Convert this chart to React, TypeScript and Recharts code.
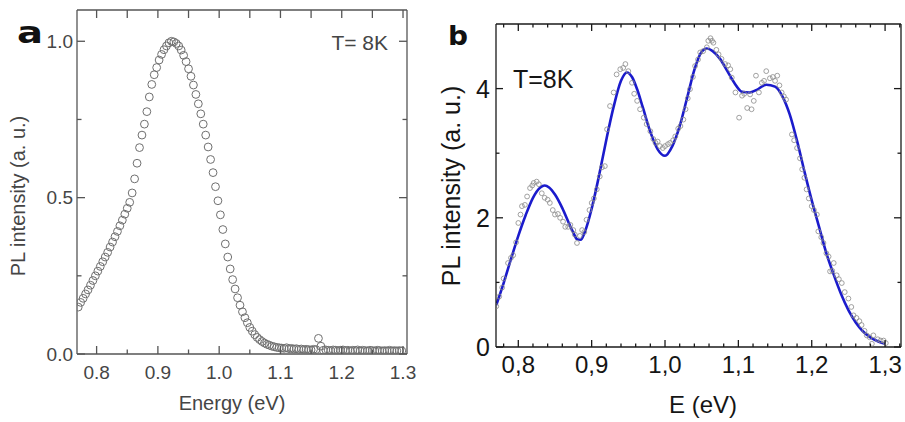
import React from 'react';
import { ComposedChart, Scatter, Line, XAxis, YAxis } from 'recharts';

// panel a: PL spectrum, open circles
const energyA = [
  0.770, 0.774, 0.778, 0.782, 0.786, 0.790, 0.794, 0.798, 0.802, 0.806, 0.810, 0.814, 0.818, 0.822, 0.826, 0.830,
  0.834, 0.838, 0.842, 0.846, 0.850, 0.854, 0.858, 0.862, 0.866, 0.870, 0.874, 0.878, 0.882, 0.886, 0.890, 0.894,
  0.898, 0.902, 0.906, 0.910, 0.914, 0.918, 0.922, 0.926, 0.930, 0.934, 0.938, 0.942, 0.946, 0.950, 0.954, 0.958,
  0.962, 0.966, 0.970, 0.974, 0.978, 0.982, 0.986, 0.990, 0.994, 0.998, 1.002, 1.006, 1.010, 1.014, 1.018, 1.022,
  1.026, 1.030, 1.034, 1.038, 1.042, 1.046, 1.050, 1.054, 1.058, 1.062, 1.066, 1.070, 1.074, 1.078, 1.082, 1.086,
  1.090, 1.094, 1.098, 1.102, 1.106, 1.110, 1.114, 1.118, 1.122, 1.126, 1.130, 1.134, 1.138, 1.142, 1.146, 1.150,
  1.154, 1.158, 1.162, 1.166, 1.170, 1.174, 1.178, 1.182, 1.186, 1.190, 1.194, 1.198, 1.202, 1.206, 1.210, 1.214,
  1.218, 1.222, 1.226, 1.230, 1.234, 1.238, 1.242, 1.246, 1.250, 1.254, 1.258, 1.262, 1.266, 1.270, 1.274, 1.278,
  1.282, 1.286, 1.290, 1.294, 1.298,
];
const intensityA = [
  0.150, 0.165, 0.178, 0.192, 0.205, 0.220, 0.235, 0.250, 0.265, 0.280, 0.295, 0.310, 0.325, 0.342, 0.358, 0.375,
  0.392, 0.410, 0.428, 0.447, 0.466, 0.485, 0.515, 0.560, 0.610, 0.660, 0.700, 0.735, 0.775, 0.822, 0.862, 0.893,
  0.916, 0.940, 0.958, 0.973, 0.985, 0.995, 1.000, 0.998, 0.993, 0.985, 0.972, 0.955, 0.935, 0.912, 0.888, 0.860,
  0.830, 0.800, 0.768, 0.735, 0.700, 0.662, 0.622, 0.580, 0.535, 0.490, 0.445, 0.398, 0.352, 0.310, 0.272, 0.238,
  0.208, 0.180, 0.156, 0.135, 0.116, 0.100, 0.085, 0.073, 0.062, 0.053, 0.046, 0.040, 0.035, 0.031, 0.028, 0.025,
  0.023, 0.021, 0.020, 0.019, 0.018, 0.020, 0.017, 0.018, 0.016, 0.017, 0.015, 0.016, 0.014, 0.015, 0.014, 0.013,
  0.015, 0.014, 0.050, 0.025, 0.012, 0.013, 0.012, 0.011, 0.013, 0.012, 0.011, 0.012, 0.013, 0.011, 0.012, 0.010,
  0.012, 0.011, 0.013, 0.010, 0.012, 0.011, 0.010, 0.012, 0.011, 0.010, 0.012, 0.011, 0.010, 0.011, 0.010, 0.012,
  0.010, 0.011, 0.010, 0.011, 0.010,
];

// panel b: measured points + fit
const energyB = [
  0.770, 0.774, 0.778, 0.780, 0.786, 0.790, 0.793, 0.797, 0.800, 0.803, 0.805, 0.809, 0.812, 0.816, 0.819, 0.821,
  0.825, 0.828, 0.832, 0.836, 0.840, 0.843, 0.847, 0.850, 0.854, 0.857, 0.861, 0.864, 0.868, 0.871, 0.875, 0.877,
  0.880, 0.884, 0.887, 0.890, 0.893, 0.897, 0.900, 0.903, 0.907, 0.911, 0.914, 0.918, 0.921, 0.925, 0.930, 0.934,
  0.939, 0.943, 0.946, 0.950, 0.955, 0.958, 0.962, 0.966, 0.971, 0.975, 0.980, 0.984, 0.987, 0.990, 0.993, 0.997,
  1.000, 1.004, 1.007, 1.011, 1.014, 1.018, 1.021, 1.025, 1.028, 1.031, 1.034, 1.038, 1.041, 1.045, 1.048, 1.052,
  1.057, 1.059, 1.062, 1.064, 1.066, 1.070, 1.073, 1.077, 1.082, 1.086, 1.089, 1.091, 1.096, 1.101, 1.105, 1.108,
  1.112, 1.116, 1.118, 1.121, 1.124, 1.128, 1.132, 1.135, 1.138, 1.143, 1.147, 1.150, 1.153, 1.156, 1.159, 1.162,
  1.165, 1.173, 1.176, 1.180, 1.184, 1.187, 1.190, 1.193, 1.196, 1.200, 1.203, 1.207, 1.209, 1.213, 1.216, 1.220,
  1.223, 1.225, 1.228, 1.230, 1.234, 1.237, 1.241, 1.245, 1.250, 1.254, 1.257, 1.261, 1.265, 1.268, 1.272, 1.275,
  1.279, 1.282, 1.284, 1.290, 1.294, 1.298, 1.301,
];
const intensityB = [
  0.63, 0.78, 0.92, 1.06, 1.30, 1.38, 1.42, 1.62, 1.92, 2.05, 2.18, 2.20, 2.33, 2.46, 2.50, 2.54,
  2.56, 2.52, 2.38, 2.31, 2.28, 2.23, 2.12, 2.05, 2.06, 2.00, 1.94, 1.86, 1.86, 1.89, 1.81, 1.74,
  1.61, 1.72, 1.81, 1.78, 1.97, 2.12, 2.23, 2.30, 2.44, 2.64, 2.78, 2.80, 3.37, 3.73, 3.94, 4.22,
  4.30, 4.32, 4.38, 4.27, 4.09, 3.92, 3.81, 3.68, 3.55, 3.45, 3.34, 3.22, 3.16, 3.18, 3.11, 3.08,
  3.11, 3.14, 3.16, 3.20, 3.26, 3.38, 3.42, 3.52, 3.68, 3.85, 3.99, 4.18, 4.35, 4.45, 4.56, 4.58,
  4.64, 4.74, 4.78, 4.74, 4.71, 4.60, 4.53, 4.46, 4.38, 4.36, 4.30, 4.17, 3.94, 3.55, 3.89, 3.92,
  3.70, 3.91, 3.68, 3.81, 4.20, 3.94, 4.09, 4.12, 4.27, 4.16, 4.18, 4.12, 4.20, 4.05, 3.94, 3.88,
  3.83, 3.29, 3.20, 3.08, 2.92, 2.75, 2.62, 2.44, 2.30, 2.18, 2.12, 2.05, 1.79, 1.70, 1.61, 1.45,
  1.40, 1.17, 1.18, 1.30, 1.11, 1.05, 0.99, 0.85, 0.75, 0.62, 0.49, 0.45, 0.40, 0.34, 0.25, 0.18,
  0.15, 0.05, 0.18, 0.12, 0.10, 0.10, 0.06,
];
const fitEnergyB = [
  0.770, 0.780, 0.790, 0.800, 0.810, 0.820, 0.830, 0.836, 0.842, 0.850, 0.860, 0.870, 0.875, 0.880, 0.885, 0.890,
  0.895, 0.900, 0.910, 0.920, 0.930, 0.940, 0.948, 0.955, 0.962, 0.970, 0.980, 0.990, 1.000, 1.010, 1.020, 1.030,
  1.040, 1.050, 1.057, 1.065, 1.075, 1.085, 1.095, 1.105, 1.115, 1.125, 1.138, 1.150, 1.160, 1.170, 1.180, 1.190,
  1.200, 1.210, 1.220, 1.230, 1.240, 1.250, 1.260, 1.270, 1.280, 1.290, 1.300,
];
const fitIntensityB = [
  0.65, 0.99, 1.36, 1.72, 2.04, 2.31, 2.47, 2.50, 2.47, 2.36, 2.15, 1.89, 1.77, 1.67, 1.66, 1.76,
  1.93, 2.14, 2.65, 3.21, 3.72, 4.12, 4.25, 4.18, 3.99, 3.70, 3.33, 3.06, 2.96, 3.11, 3.42, 3.85,
  4.29, 4.57, 4.62, 4.58, 4.46, 4.27, 4.08, 3.95, 3.94, 3.98, 4.06, 4.03, 3.88, 3.60, 3.19, 2.72,
  2.27, 1.86, 1.45, 1.12, 0.82, 0.57, 0.38, 0.24, 0.15, 0.09, 0.05,
];

// ticks
const xTicksA = [0.8, 0.85, 0.9, 0.95, 1.0, 1.05, 1.1, 1.15, 1.2, 1.25, 1.3];
const xMajorA = [0.8, 0.9, 1.0, 1.1, 1.2, 1.3];
const yTicksA = [0, 0.25, 0.5, 0.75, 1.0];
const yMajorA = [0, 0.5, 1.0];
const xTicksB = [
  0.78, 0.8, 0.82, 0.84, 0.86, 0.88, 0.9, 0.92, 0.94, 0.96, 0.98, 1.0, 1.02, 1.04, 1.06, 1.08,
  1.1, 1.12, 1.14, 1.16, 1.18, 1.2, 1.22, 1.24, 1.26, 1.28, 1.3, 1.32,
];
const xMajorB = [0.8, 0.9, 1.0, 1.1, 1.2, 1.3];
const yTicksB = [0, 1, 2, 3, 4];
const yMajorB = [0, 2, 4];

const dataA = energyA.map((e, i) => ({ e, v: intensityA[i] }));
const dataB = energyB.map((e, i) => ({ e, v: intensityB[i] }));
const fitB = fitEnergyB.map((e, i) => ({ e, v: fitIntensityB[i] }));

const FONT = '"Liberation Sans", Arial, Helvetica, sans-serif';
const near = (list: number[], v: number) => list.some((m) => Math.abs(m - v) < 1e-6);

type Side = 'top' | 'bottom' | 'left' | 'right';

// inward tick mark (longer on majors) plus an optional label
function makeTick(
  side: Side,
  majors: number[],
  majorLen: number,
  minorLen: number,
  stroke: string,
  label?: { fmt: (v: number) => string; size: number; fill: string; offset: number },
) {
  return (props: any) => {
    const x = Number(props.x);
    const y = Number(props.y);
    const v = props.payload.value;
    const isMajor = near(majors, v);
    const len = isMajor ? majorLen : minorLen;
    let d = '';
    if (side === 'bottom') d = `M${x},${y}V${y - len}`;
    if (side === 'top') d = `M${x},${y}V${y + len}`;
    if (side === 'left') d = `M${x},${y}H${x + len}`;
    if (side === 'right') d = `M${x},${y}H${x - len}`;
    let text: React.ReactNode = null;
    if (label && isMajor) {
      if (side === 'bottom') {
        text = (
          <text x={x} y={y + label.offset} textAnchor="middle" fontSize={label.size} fill={label.fill} stroke="none" fontFamily={FONT}>
            {label.fmt(v)}
          </text>
        );
      } else if (side === 'left') {
        text = (
          <text x={x - label.offset} y={y} dy="0.36em" textAnchor="end" fontSize={label.size} fill={label.fill} stroke="none" fontFamily={FONT}>
            {label.fmt(v)}
          </text>
        );
      }
    }
    return (
      <g>
        <path d={d} stroke={stroke} strokeWidth={1.3} fill="none" />
        {text}
      </g>
    );
  };
}

const axisA = '#555';
const textA = '#454545';
const axisB = '#1a1a1a';
const textB = '#151515';

const circleA = (p: any) => <circle cx={p.cx} cy={p.cy} r={3.9} fill="none" stroke="#6f6f6f" strokeWidth={1} />;
const circleB = (p: any) => <circle cx={p.cx} cy={p.cy} r={2.4} fill="none" stroke="#8a8a8a" strokeWidth={0.8} />;

// top/right axes need a non-zero size or recharts skips drawing them
function PanelA() {
  const dom: [number, number] = [0.768, 1.3065];
  const ydom: [number, number] = [0, 1.1];
  return (
    <ComposedChart width={420} height={422} margin={{ top: 9, right: 12, bottom: 0, left: 0 }}>
      <XAxis
        xAxisId="b" dataKey="e" type="number" domain={dom} allowDataOverflow ticks={xTicksA} interval={0}
        height={68} tickSize={0} tickMargin={0} tickLine={false} axisLine={{ stroke: axisA, strokeWidth: 1.3 }}
        tick={makeTick('bottom', xMajorA, 8, 4.5, axisA, { fmt: (v) => v.toFixed(1), size: 19, fill: textA, offset: 25 })}
      />
      <XAxis
        xAxisId="t" orientation="top" dataKey="e" type="number" domain={dom} allowDataOverflow ticks={xTicksA} interval={0}
        height={1} tickSize={0} tickMargin={0} tickLine={false} axisLine={{ stroke: axisA, strokeWidth: 1.3 }}
        tick={makeTick('top', xMajorA, 8, 8, axisA)}
      />
      <YAxis
        yAxisId="l" dataKey="v" type="number" domain={ydom} allowDataOverflow ticks={yTicksA} interval={0}
        width={77} tickSize={0} tickMargin={0} tickLine={false} axisLine={{ stroke: axisA, strokeWidth: 1.3 }}
        tick={makeTick('left', yMajorA, 8, 4.5, axisA, { fmt: (v) => v.toFixed(1), size: 19, fill: textA, offset: 4 })}
      />
      <YAxis
        yAxisId="r" orientation="right" type="number" domain={ydom} allowDataOverflow ticks={yTicksA} interval={0}
        width={1} tickSize={0} tickMargin={0} tickLine={false} axisLine={{ stroke: axisA, strokeWidth: 1.3 }}
        tick={makeTick('right', yMajorA, 8, 4.5, axisA)}
      />
      <Scatter xAxisId="b" yAxisId="l" data={dataA} dataKey="v" shape={circleA} isAnimationActive={false} />
    </ComposedChart>
  );
}

function PanelB() {
  const dom: [number, number] = [0.7696, 1.3217];
  const ydom: [number, number] = [0, 5];
  return (
    <ComposedChart width={485} height={422} margin={{ top: 23, right: 3, bottom: 0, left: 0 }}>
      <XAxis
        xAxisId="b" dataKey="e" type="number" domain={dom} allowDataOverflow ticks={xTicksB} interval={0}
        height={75} tickSize={0} tickMargin={0} tickLine={false} axisLine={{ stroke: axisB, strokeWidth: 1.3 }}
        tick={makeTick('bottom', xMajorB, 7, 3.5, axisB, { fmt: (v) => v.toFixed(1).replace('.', ','), size: 24, fill: textB, offset: 26 })}
      />
      <XAxis
        xAxisId="t" orientation="top" dataKey="e" type="number" domain={dom} allowDataOverflow ticks={xTicksB} interval={0}
        height={1} tickSize={0} tickMargin={0} tickLine={false} axisLine={{ stroke: axisB, strokeWidth: 1.3 }}
        tick={makeTick('top', xMajorB, 7, 3.5, axisB)}
      />
      <YAxis
        yAxisId="l" dataKey="v" type="number" domain={ydom} allowDataOverflow ticks={yTicksB} interval={0}
        width={76} tickSize={0} tickMargin={0} tickLine={false} axisLine={{ stroke: axisB, strokeWidth: 1.3 }}
        tick={makeTick('left', yMajorB, 7, 3.5, axisB, { fmt: (v) => String(v), size: 25, fill: textB, offset: 6 })}
      />
      <YAxis
        yAxisId="r" orientation="right" type="number" domain={ydom} allowDataOverflow ticks={yTicksB} interval={0}
        width={1} tickSize={0} tickMargin={0} tickLine={false} axisLine={{ stroke: axisB, strokeWidth: 1.3 }}
        tick={makeTick('right', yMajorB, 7, 3.5, axisB)}
      />
      <Scatter xAxisId="b" yAxisId="l" data={dataB} dataKey="v" shape={circleB} isAnimationActive={false} />
      <Line
        xAxisId="b" yAxisId="l" data={fitB} dataKey="v" type="monotone" dot={false} activeDot={false}
        stroke="#1b1bcc" strokeWidth={2.6} isAnimationActive={false}
      />
    </ComposedChart>
  );
}

export default function App() {
  return (
    <div style={{ position: 'absolute', left: 0, top: 0, width: 905, height: 422, background: '#fff', overflow: 'hidden' }}>
      <div style={{ position: 'absolute', left: 0, top: 0 }}>
        <PanelA />
      </div>
      <div style={{ position: 'absolute', left: 420, top: 0 }}>
        <PanelB />
      </div>
      <svg width={905} height={422} style={{ position: 'absolute', left: 0, top: 0, pointerEvents: 'none' }}>
        <text x={17} y={43} fontSize={30} fontWeight="bold" fontFamily='"DejaVu Sans", sans-serif' fill="#111" textLength={26} lengthAdjust="spacingAndGlyphs">a</text>
        <text x={388} y={50} textAnchor="end" fontSize={21} fill={textA} fontFamily={FONT}>T= 8K</text>
        <text x={232} y={410} textAnchor="middle" fontSize={20} fill={textA} fontFamily={FONT}>Energy (eV)</text>
        <text transform="translate(24.5,196) rotate(-90)" textAnchor="middle" fontSize={20} fill={textA} fontFamily={FONT}>PL intensity (a. u.)</text>

        <text x={448} y={45} fontSize={27} fontWeight="bold" fontFamily='"DejaVu Sans", sans-serif' fill="#111" textLength={20} lengthAdjust="spacingAndGlyphs">b</text>
        <text x={513} y={88} fontSize={25} fill={textB} fontFamily={FONT}>T=8K</text>
        <text x={703} y={413} textAnchor="middle" fontSize={24} fill={textB} fontFamily={FONT}>E (eV)</text>
        <text transform="translate(460,186) rotate(-90)" textAnchor="middle" fontSize={25} fill={textB} fontFamily={FONT}>PL intensity (a. u.)</text>
      </svg>
    </div>
  );
}
